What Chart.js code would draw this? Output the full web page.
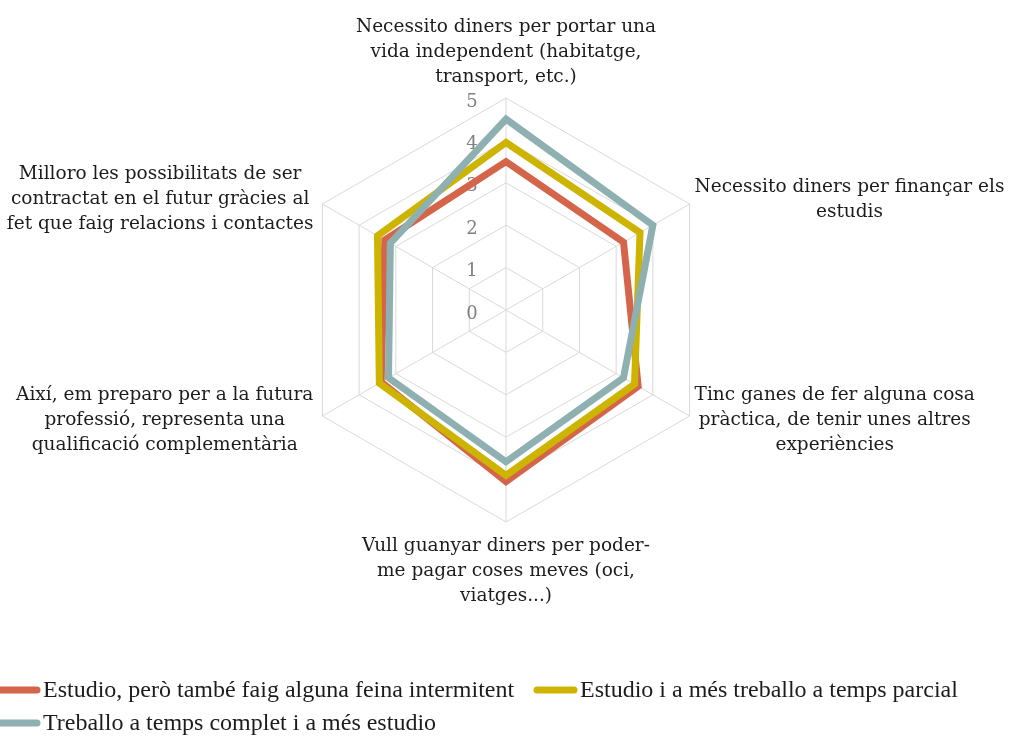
<!DOCTYPE html>
<html>
<head>
<meta charset="utf-8">
<script src="https://cdn.jsdelivr.net/npm/chart.js@4/dist/chart.umd.min.js"></script>
<style>
  html, body { margin: 0; padding: 0; background: #ffffff; }
  #wrap { width: 1009px; height: 736px; position: relative; }
</style>
</head>
<body>
<div id="wrap"><canvas id="c" width="1009" height="736"></canvas></div>
<script>
// ---- Data ----
const categories = [
  ["Necessito diners per portar una", "vida independent (habitatge,", "transport, etc.)"],
  ["Necessito diners per finançar els", "estudis"],
  ["Tinc ganes de fer alguna cosa", "pràctica, de tenir unes altres", "experiències"],
  ["Vull guanyar diners per poder-", "me pagar coses meves (oci,", "viatges...)"],
  ["Així, em preparo per a la futura", "professió, representa una", "qualificació complementària"],
  ["Milloro les possibilitats de ser", "contractat en el futur gràcies al", "fet que faig relacions i contactes"]
];
const seriesNames = [
  "Estudio, però també faig alguna feina intermitent",
  "Estudio i a més treballo a temps parcial",
  "Treballo a temps complet i a més estudio"
];
const intermitent = [3.5, 3.2, 3.6, 4.05, 3.4, 3.3];
const parcial     = [3.95, 3.65, 3.5, 3.9, 3.45, 3.5];
const complet     = [4.5, 4.0, 3.2, 3.58, 3.2, 3.15];
const tickValues  = [0, 1, 2, 3, 4, 5];

const colors = ["#D5654A", "#CDB400", "#8EB0B0"];
const labelFont = '18.5px "DejaVu Serif"';
const tickFont = '18px "DejaVu Serif"';
const legendFont = '24px "Liberation Serif"';

// Draw tick labels (left of vertical axis)
const tickPlugin = {
  id: 'tickLabels',
  beforeDatasetsDraw(chart) {
    const s = chart.scales.r;
    const ctx = chart.ctx;
    ctx.save();
    ctx.font = tickFont;
    ctx.fillStyle = '#808080';
    ctx.textAlign = 'center';
    ctx.textBaseline = 'middle';
    tickValues.forEach(v => {
      const d = s.getDistanceFromCenterForValue(v);
      ctx.fillText(String(v), s.xCenter - 34, s.yCenter - d + 4);
    });
    ctx.restore();
  }
};

// Draw point labels around the radar
const pointLabelPlugin = {
  id: 'pointLabelsCustom',
  afterDraw(chart) {
    const s = chart.scales.r;
    const ctx = chart.ctx;
    const lh = 25;
    ctx.save();
    ctx.font = labelFont;
    ctx.fillStyle = '#1c1c1c';
    ctx.textBaseline = 'middle';
    ctx.textAlign = 'center';
    chart.data.labels.forEach((lines, i) => {
      const p = s.getPointPosition(i, s.drawingArea);
      const n = lines.length;
      const w = Math.max(...lines.map(l => ctx.measureText(l).width));
      let cx, firstY;
      const dx = p.x - s.xCenter;
      const dy = p.y - s.yCenter;
      if (Math.abs(dx) < 1) {
        cx = p.x;
        if (dy < 0) firstY = p.y - 21 - (n - 1) * lh;
        else firstY = p.y + 24;
      } else {
        const blockCenterY = p.y + (dy < 0 ? -4.5 : 4);
        firstY = blockCenterY - (n - 1) * lh / 2;
        if (dx > 0) cx = p.x + 5 + w / 2;
        else cx = p.x - 9 - w / 2;
      }
      lines.forEach((l, k) => ctx.fillText(l, cx, firstY + k * lh));
    });
    ctx.restore();
  }
};

// Custom legend
const legendPlugin = {
  id: 'legendCustom',
  afterDraw(chart) {
    const ctx = chart.ctx;
    const items = [
      {x: 0, y: 690},
      {x: 537, y: 690},
      {x: 0, y: 723}
    ];
    ctx.save();
    ctx.font = legendFont;
    ctx.textBaseline = 'middle';
    ctx.textAlign = 'left';
    chart.data.datasets.forEach((ds, i) => {
      const it = items[i];
      ctx.strokeStyle = ds.borderColor;
      ctx.lineWidth = 7;
      ctx.lineCap = 'round';
      ctx.beginPath();
      ctx.moveTo(it.x, it.y);
      ctx.lineTo(it.x + 37, it.y);
      ctx.stroke();
      ctx.fillStyle = '#1c1c1c';
      ctx.fillText(ds.label, it.x + 43, it.y + 1);
    });
    ctx.restore();
  }
};

const datasets = [intermitent, parcial, complet].map((vals, i) => ({
  label: seriesNames[i],
  data: vals,
  borderColor: colors[i],
  backgroundColor: colors[i],
  borderWidth: 7,
  borderJoinStyle: 'miter',
  pointRadius: 0,
  pointHoverRadius: 0,
  fill: false,
  tension: 0,
  order: 3 - i
}));

new Chart(document.getElementById('c'), {
  type: 'radar',
  data: { labels: categories, datasets },
  options: {
    responsive: false,
    animation: false,
    layout: { padding: { top: 98, bottom: 214, left: 294, right: 291 } },
    plugins: { legend: { display: false }, tooltip: { enabled: false } },
    scales: {
      r: {
        min: 0,
        max: 5,
        ticks: { display: false, stepSize: 1 },
        pointLabels: { display: false },
        grid: { color: '#D9D9D9', lineWidth: 1 },
        angleLines: { color: '#D9D9D9', lineWidth: 1 }
      }
    }
  },
  plugins: [tickPlugin, pointLabelPlugin, legendPlugin]
});
</script>
</body>
</html>
